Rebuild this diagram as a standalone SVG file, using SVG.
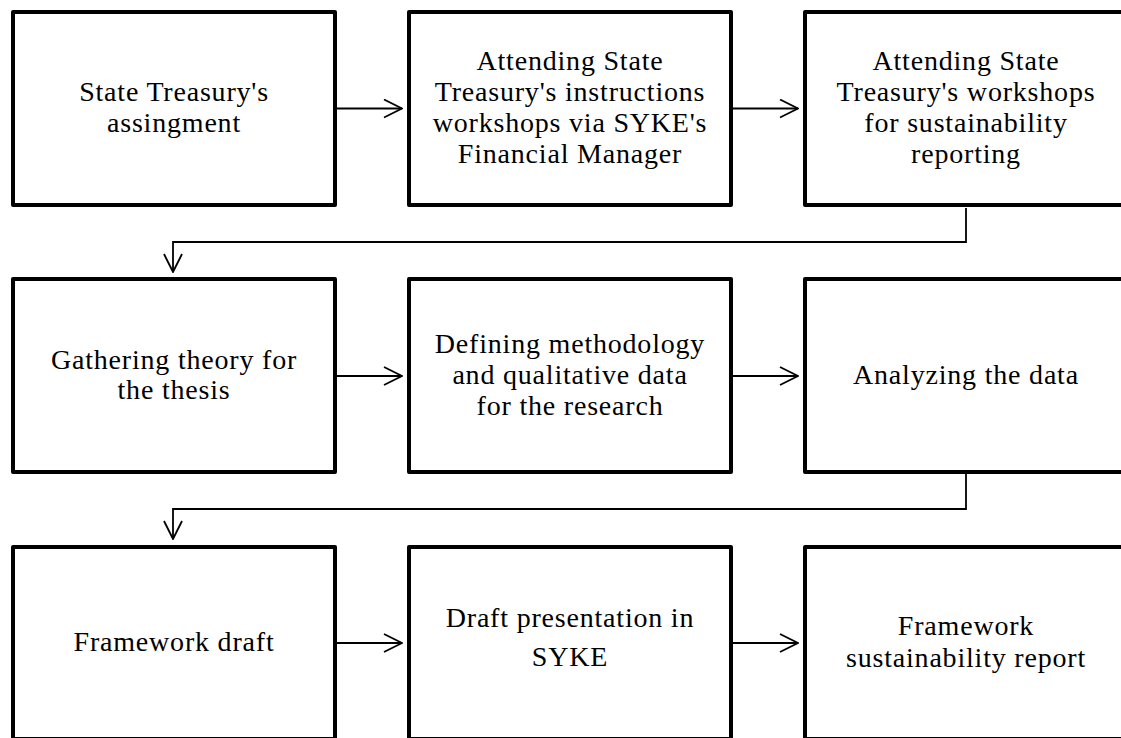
<svg xmlns="http://www.w3.org/2000/svg" width="1121" height="738" viewBox="0 0 1121 738">
<style>
.box{fill:#fff;stroke:#000;stroke-width:4;stroke-linejoin:round}
.lbl{font-family:"Liberation Serif","Times New Roman",serif;font-size:28px;letter-spacing:0.8px;fill:#000;text-anchor:middle}
.conn{fill:none;stroke:#000;stroke-width:1.8}
</style>
<defs>
<marker id="arr" viewBox="0 0 20 20" refX="19" refY="10" markerWidth="20" markerHeight="20" markerUnits="userSpaceOnUse" orient="auto">
<path d="M1,1 L19,10 L1,19" fill="none" stroke="#000" stroke-width="1.8"/>
</marker>
</defs>
<rect width="1121" height="738" fill="#fff"/>
<g id="connectors">
<line class="conn" x1="337" y1="108.5" x2="402" y2="108.5" marker-end="url(#arr)"/>
<line class="conn" x1="733" y1="108.5" x2="798" y2="108.5" marker-end="url(#arr)"/>
<polyline class="conn" points="966,208 966,242 173,242 173,272" marker-end="url(#arr)"/>
<line class="conn" x1="337" y1="376" x2="402" y2="376" marker-end="url(#arr)"/>
<line class="conn" x1="733" y1="376" x2="798" y2="376" marker-end="url(#arr)"/>
<polyline class="conn" points="966,474 966,509 173,509 173,539" marker-end="url(#arr)"/>
<line class="conn" x1="337" y1="643" x2="402" y2="643" marker-end="url(#arr)"/>
<line class="conn" x1="733" y1="643" x2="798" y2="643" marker-end="url(#arr)"/>
</g>
<g id="n1"><rect class="box" x="13" y="12" width="322" height="193"/>
<text class="lbl" x="174" y="100.5">State Treasury's</text><text class="lbl" x="174" y="132">assingment</text></g>
<g id="n2"><rect class="box" x="409" y="12" width="322" height="193"/>
<text class="lbl" x="570" y="70">Attending State</text><text class="lbl" x="570" y="101">Treasury's instructions</text><text class="lbl" x="570" y="132">workshops via SYKE's</text><text class="lbl" x="570" y="163">Financial Manager</text></g>
<g id="n3"><rect class="box" x="805" y="12" width="322" height="193"/>
<text class="lbl" x="966" y="70">Attending State</text><text class="lbl" x="966" y="101">Treasury's workshops</text><text class="lbl" x="966" y="132">for sustainability</text><text class="lbl" x="966" y="163">reporting</text></g>
<g id="n4"><rect class="box" x="13" y="279" width="322" height="193"/>
<text class="lbl" x="174" y="369">Gathering theory for</text><text class="lbl" x="174" y="399">the thesis</text></g>
<g id="n5"><rect class="box" x="409" y="279" width="322" height="193"/>
<text class="lbl" x="570" y="353">Defining methodology</text><text class="lbl" x="570" y="384">and qualitative data</text><text class="lbl" x="570" y="415">for the research</text></g>
<g id="n6"><rect class="box" x="805" y="279" width="322" height="193"/>
<text class="lbl" x="966" y="384">Analyzing the data</text></g>
<g id="n7"><rect class="box" x="13" y="547" width="322" height="192"/>
<text class="lbl" x="174" y="651">Framework draft</text></g>
<g id="n8"><rect class="box" x="409" y="547" width="322" height="192"/>
<text class="lbl" x="570" y="627">Draft presentation in</text><text class="lbl" x="570" y="666">SYKE</text></g>
<g id="n9"><rect class="box" x="805" y="547" width="322" height="192"/>
<text class="lbl" x="966" y="635">Framework</text><text class="lbl" x="966" y="667">sustainability report</text></g>
</svg>
